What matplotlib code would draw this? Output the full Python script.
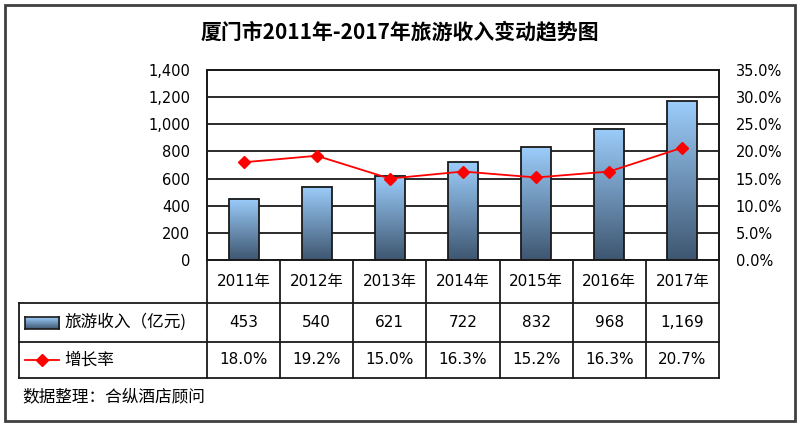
import numpy as np
import matplotlib
matplotlib.use("Agg")
import matplotlib.pyplot as plt
from matplotlib.colors import LinearSegmentedColormap
from matplotlib.patches import Rectangle
from matplotlib.lines import Line2D

plt.rcParams['font.family'] = ['DejaVu Sans', 'Noto Sans CJK SC']

# data
years = ['2011年', '2012年', '2013年', '2014年', '2015年', '2016年', '2017年']
income = [453, 540, 621, 722, 832, 968, 1169]
growth = [18.0, 19.2, 15.0, 16.3, 15.2, 16.3, 20.7]
income_labels = ['453', '540', '621', '722', '832', '968', '1,169']
growth_labels = ['18.0%', '19.2%', '15.0%', '16.3%', '15.2%', '16.3%', '20.7%']
series_names = ['旅游收入（亿元)', '增长率']
title = '厦门市2011年-2017年旅游收入变动趋势图'
source = '数据整理：合纵酒店顾问'

W, H = 800, 428
fig = plt.figure(figsize=(W / 100, H / 100), dpi=100)

def fx(px):
    return px / W

def fy(py):
    return 1 - py / H

# outer frame
fig.add_artist(Rectangle((fx(5), fy(421)), fx(790), 416 / H, transform=fig.transFigure,
                         fill=False, edgecolor='#404040', linewidth=2))

# plot area
L, R, T, B = 207, 719, 70, 260
ax = fig.add_axes([fx(L), fy(B), fx(R - L), (B - T) / H])
ax2 = ax.twinx()

n = len(years)
x = np.arange(n)
cmap = LinearSegmentedColormap.from_list('bar', ['#3e5670', '#9ccdfb'])
grad = np.linspace(0, 1, 256).reshape(-1, 1)
bw = 0.41
for xi, v in zip(x, income):
    ax.imshow(grad, extent=[xi - bw / 2, xi + bw / 2, 0, v], origin='lower',
              aspect='auto', cmap=cmap, zorder=2)
ax.bar(x, income, width=bw, facecolor='none', edgecolor='#1a1a1a', linewidth=1.3, zorder=3)

ax.set_xlim(-0.5, n - 0.5)
ax.set_ylim(0, 1400)
ax.set_yticks(np.arange(0, 1401, 200))
ax.set_yticklabels([f'{v:,}' for v in range(0, 1401, 200)])
ax.set_xticks([])
ax.grid(axis='y', color='#1a1a1a', linewidth=1.3, zorder=1)
ax.set_axisbelow(True)
ax.tick_params(axis='y', length=0, pad=12, labelsize=10.5)

ax2.plot(x, growth, color='#ff0000', linewidth=1.3, marker='D', markersize=6.5, zorder=5)
ax2.set_ylim(0, 35)
ax2.set_yticks(np.arange(0, 35.1, 5))
ax2.set_yticklabels([f'{v:.1f}%' for v in np.arange(0, 35.1, 5)])
ax2.tick_params(axis='y', length=0, pad=12, labelsize=10.5)

for a in (ax, ax2):
    for s in a.spines.values():
        s.set_color('#1a1a1a')
        s.set_linewidth(1.3)

# data table
col_w = (R - L) / n
rows = [260, 303, 342, 378]
tl = 19
lc = '#1a1a1a'

def hline(y, x0, x1):
    fig.add_artist(Line2D([fx(x0), fx(x1)], [fy(y), fy(y)], color=lc, linewidth=1.3))

def vline(xp, y0, y1):
    fig.add_artist(Line2D([fx(xp), fx(xp)], [fy(y0), fy(y1)], color=lc, linewidth=1.3))

hline(rows[1], tl, R)
hline(rows[2], tl, R)
hline(rows[3], tl, R)
vline(tl, rows[1], rows[3])
for i in range(n + 1):
    vline(L + i * col_w, rows[0], rows[3])

for i in range(n):
    cx = fx(L + (i + 0.5) * col_w)
    fig.text(cx, fy((rows[0] + rows[1]) / 2), years[i], ha='center', va='center', fontsize=11)
    fig.text(cx, fy((rows[1] + rows[2]) / 2), income_labels[i], ha='center', va='center', fontsize=11)
    fig.text(cx, fy((rows[2] + rows[3]) / 2), growth_labels[i], ha='center', va='center', fontsize=11)

# legend keys in table
kx0, kx1 = 25, 59
ky = (rows[1] + rows[2]) / 2
key_ax = fig.add_axes([fx(kx0), fy(ky + 6), fx(kx1 - kx0), 12 / H])
key_ax.imshow(grad, extent=[0, 1, 0, 1], origin='lower', aspect='auto', cmap=cmap)
key_ax.set_xticks([])
key_ax.set_yticks([])
for s in key_ax.spines.values():
    s.set_color('#1a1a1a')
    s.set_linewidth(1.2)

ly = (rows[2] + rows[3]) / 2
fig.add_artist(Line2D([fx(kx0), fx(kx1)], [fy(ly), fy(ly)], color='#ff0000', linewidth=1.3))
fig.add_artist(Line2D([fx((kx0 + kx1) / 2)], [fy(ly)], color='#ff0000', marker='D',
                      markersize=6.5, linestyle='none'))

fig.text(fx(64), fy(ky), series_names[0], ha='left', va='center', fontsize=12,
         family=['Noto Sans CJK SC'])
fig.text(fx(64), fy(ly), series_names[1], ha='left', va='center', fontsize=12,
         family=['Noto Sans CJK SC'])

fig.text(0.5, fy(32), title, ha='center', va='center', fontsize=15, fontweight='bold',
         family=['Noto Sans CJK SC'])
fig.text(fx(22), fy(397), source, ha='left', va='center', fontsize=12,
         family=['Noto Sans CJK SC'])

fig.savefig('out.png', dpi=100)
